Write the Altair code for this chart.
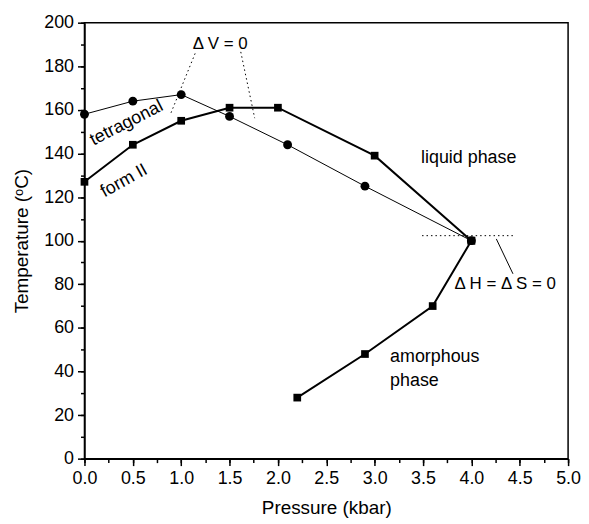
import altair as alt
import pandas as pd

# Data
tet_p = [0.0, 0.5, 1.0, 1.5, 2.1, 2.9, 4.0]
tet_t = [158, 164, 167, 157, 144, 125, 100]
f2_p = [0.0, 0.5, 1.0, 1.5, 2.0, 3.0, 4.0]
f2_t = [127, 144, 155, 161, 161, 139, 100]
am_p = [2.2, 2.9, 3.6, 4.0]
am_t = [28, 48, 70, 100]

# annotation segments (x, y, x2, y2)
dotted_x = [1.144, 1.616, 3.49]
dotted_y = [185.9, 186.6, 102.3]
dotted_x2 = [0.887, 1.76, 4.445]
dotted_y2 = [157.8, 156.2, 102.3]
leader_x = [4.258]
leader_y = [100.8]
leader_x2 = [4.43]
leader_y2 = [84.8]

labels = ["liquid phase", "amorphous", "phase", "Δ V = 0", "Δ H = Δ S = 0"]
label_x = [3.48, 3.16, 3.16, 1.404, 4.35]
label_y = [138.0, 46.5, 35.8, 190.4, 80.3]
label_align = ["left", "left", "left", "center", "center"]

rot_labels = ["tetragonal", "form II"]
rot_x = [0.435, 0.41]
rot_y = [153.9, 127.4]
rot_angle = [333, 331]

FONT = "Liberation Sans"
FS = 18
TFS = 19

tet = pd.DataFrame({"p": tet_p, "t": tet_t, "s": "tetragonal"})
f2 = pd.DataFrame({"p": f2_p, "t": f2_t, "s": "form II"})
am = pd.DataFrame({"p": am_p, "t": am_t, "s": "amorphous"})
thick = pd.concat([f2, am])

xs = alt.Scale(domain=[0, 5], nice=False, zero=False)
ys = alt.Scale(domain=[0, 200], nice=False, zero=False)

common = dict(grid=False, labelFlush=False, labelOverlap=False,
              labelFontWeight="normal", titleFontWeight="normal",
              labelFont=FONT, titleFont=FONT, labelFontSize=FS, titleFontSize=TFS,
              labelColor="black", titleColor="black")

xmaj = alt.Axis(values=[i * 0.5 for i in range(11)], format=".1f", orient="bottom",
                title="Pressure (kbar)", tickSize=7, labelPadding=4,
                titlePadding=11, **common)
ymaj = alt.Axis(values=list(range(0, 201, 20)), orient="left",
                title="Temperature (ᵒC)", tickSize=7, labelPadding=4,
                titlePadding=12, **common)

X = alt.X("p:Q", scale=xs, axis=None)
Y = alt.Y("t:Q", scale=ys, axis=None)

axes_major = alt.Chart(pd.DataFrame({"p": [0.0], "t": [0.0]})).mark_point(opacity=0).encode(
    x=alt.X("p:Q", scale=xs, axis=xmaj),
    y=alt.Y("t:Q", scale=ys, axis=ymaj),
)
minor = alt.Chart(pd.DataFrame({"p": [0.0], "t": [0.0]})).mark_point(opacity=0).encode(
    x=alt.X("p:Q", scale=xs, axis=alt.Axis(values=[i * 0.25 for i in range(21)], orient="bottom",
                                           labels=False, title=None, tickSize=4, domain=False, grid=False)),
    y=alt.Y("t:Q", scale=ys, axis=alt.Axis(values=list(range(0, 201, 10)), orient="left",
                                           labels=False, title=None, tickSize=4, domain=False, grid=False)),
)

tet_line = alt.Chart(tet).mark_line(color="black", strokeWidth=1).encode(x=X, y=Y, order="p:Q")
tet_pts = alt.Chart(tet).mark_point(shape="circle", filled=True, color="black", size=80, opacity=1).encode(x=X, y=Y)
thick_line = alt.Chart(thick).mark_line(color="black", strokeWidth=2).encode(x=X, y=Y, detail="s:N", order="p:Q")
thick_pts = alt.Chart(thick).mark_point(shape="square", filled=True, color="black", size=60, opacity=1).encode(x=X, y=Y)

dotted = alt.Chart(pd.DataFrame({"p": dotted_x, "t": dotted_y, "p2": dotted_x2, "t2": dotted_y2})).mark_rule(
    color="black", strokeWidth=1, strokeDash=[1.5, 3]).encode(x=X, y=Y, x2="p2:Q", y2="t2:Q")
leader = alt.Chart(pd.DataFrame({"p": leader_x, "t": leader_y, "p2": leader_x2, "t2": leader_y2})).mark_rule(
    color="black", strokeWidth=1).encode(x=X, y=Y, x2="p2:Q", y2="t2:Q")

lab_df = pd.DataFrame({"txt": labels, "p": label_x, "t": label_y, "al": label_align})
lab_left = alt.Chart(lab_df[lab_df.al == "left"]).mark_text(
    align="left", baseline="middle", font=FONT, fontSize=FS, color="black").encode(x=X, y=Y, text="txt:N")
lab_center = alt.Chart(lab_df[lab_df.al == "center"]).mark_text(
    align="center", baseline="middle", font=FONT, fontSize=17, color="black").encode(x=X, y=Y, text="txt:N")

rot_layers = []
for txt, px, py, ang in zip(rot_labels, rot_x, rot_y, rot_angle):
    rot_layers.append(
        alt.Chart(pd.DataFrame({"txt": [txt], "p": [px], "t": [py]})).mark_text(
            align="center", baseline="middle", font=FONT, fontSize=FS, color="black", angle=ang
        ).encode(x=X, y=Y, text="txt:N")
    )

chart = alt.layer(
    axes_major, minor, dotted, leader, tet_line, thick_line, thick_pts, tet_pts, lab_left, lab_center, *rot_layers
).resolve_axis(x="independent", y="independent").properties(
    width=487, height=439,
    background="white",
    autosize=alt.AutoSizeParams(type="none"),
    padding={"left": 77, "top": 13, "right": 13, "bottom": 62},
).configure_view(stroke="black", strokeWidth=1.5).configure_axis(
    domainColor="black", tickColor="black", domainWidth=1.5, tickWidth=1.5,
)

chart.save("out.html", embed_options={"renderer": "svg", "actions": False})
